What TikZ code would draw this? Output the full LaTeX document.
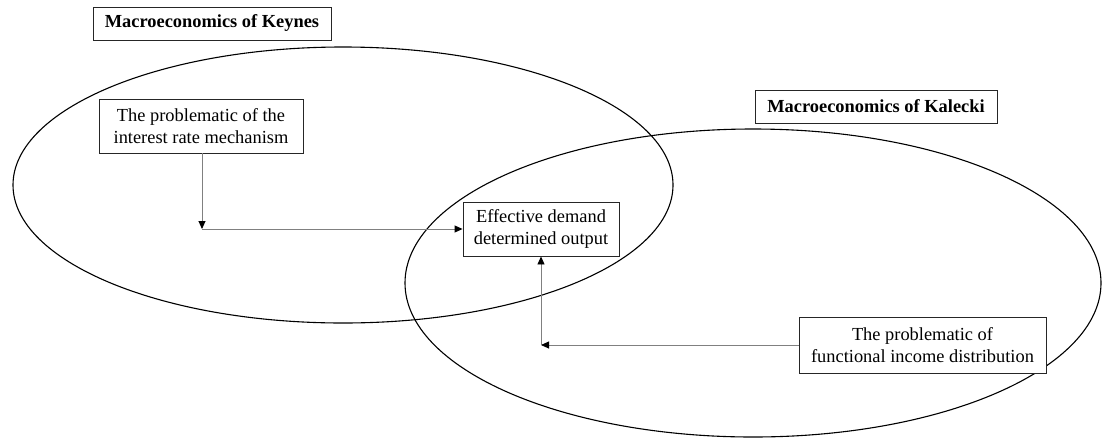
\documentclass[tikz,border=0pt]{standalone}
\usepackage{fontspec}
\setmainfont{Liberation Serif}
\usetikzlibrary{arrows.meta}
\begin{document}
\begin{tikzpicture}[x=1pt,y=-1pt,
  box/.style={draw=black!85,line width=0.9pt,fill=white,align=center,font=\fontsize{18.4}{21.5}\selectfont,inner sep=0pt},
  title/.style={draw=black!85,line width=0.9pt,fill=white,font=\bfseries\fontsize{18.4}{21}\selectfont,inner sep=0pt},
  conn/.style={draw=black!50,line width=0.9pt,-{Triangle[length=8pt,width=7pt,color=black]}},
  ell/.style={draw=black,line width=1.1pt}]
\useasboundingbox (0,0) rectangle (1102,440);
\draw[ell] (343,185) ellipse [x radius=330, y radius=138];
\draw[ell] (753,283) ellipse [x radius=348, y radius=154];
\node[title,minimum width=238,minimum height=33] (keynes) at (212,23.5) {Macroeconomics of Keynes};
\node[title,minimum width=242,minimum height=33] (kalecki) at (876,106.5) {Macroeconomics of Kalecki};
\node[box,minimum width=204,minimum height=54] (interest) at (201,126) {The problematic of the\\interest rate mechanism};
\node[box,minimum width=156,minimum height=54] (eff) at (541,229) {Effective demand\\determined output};
\node[box,minimum width=247,minimum height=56] (func) at (922.5,345) {The problematic of\\functional income distribution};
\coordinate (c1) at (202,229);
\coordinate (c2) at (541,345);
\draw[conn] (interest.south -| c1) -- (c1);
\draw[conn] (c1) -- (c1 -| eff.west);
\draw[conn] (func.west |- c2) -- (c2);
\draw[conn] (c2) -- (c2 |- eff.south);
\end{tikzpicture}
\end{document}
